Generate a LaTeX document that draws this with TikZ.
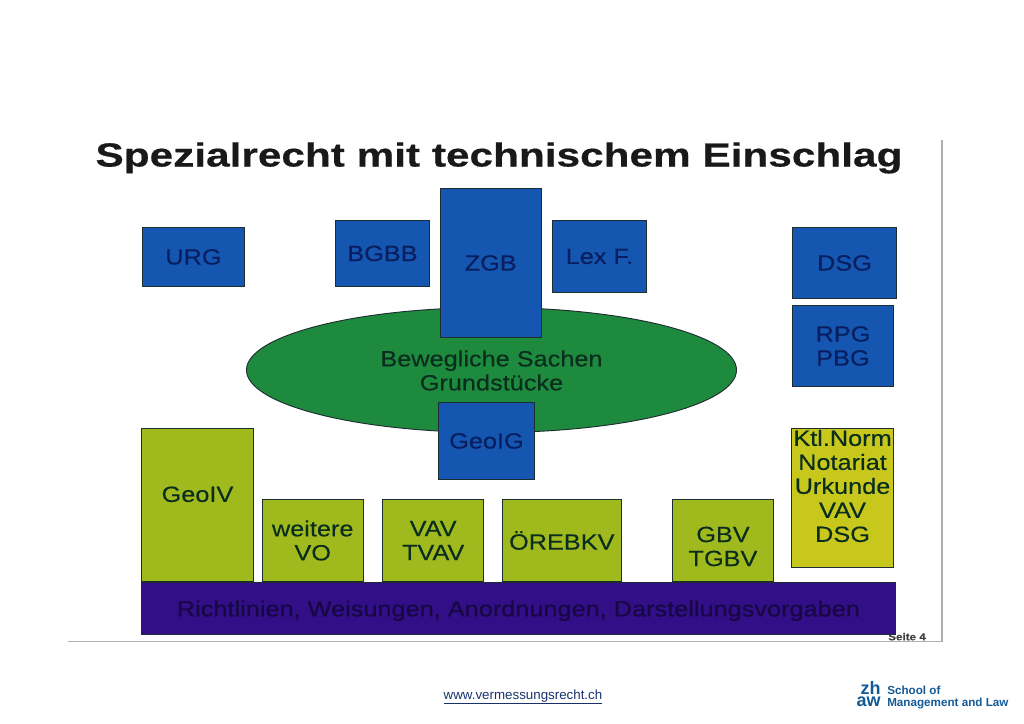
\documentclass[tikz,border=0pt]{standalone}
\usepackage{fontspec}
\setmainfont{Liberation Sans}
\newfontfamily\lawfont[FakeStretch=1.15,FakeBold=0.25]{Liberation Sans}
\newfontfamily\titlefont[FakeStretch=1.27,BoldFeatures={FakeBold=0.5}]{Liberation Sans}
\usepackage{tikz}
\usetikzlibrary{
  positioning,
  shapes.geometric,
}
\definecolor{lawblue}{RGB}{20, 86, 176}
\definecolor{lawgreen}{RGB}{30, 138, 62}
\definecolor{lawolive}{RGB}{160, 186, 30}
\definecolor{lawyellow}{RGB}{200, 200, 28}
\definecolor{lawpurple}{RGB}{50, 14, 135}
\definecolor{lawedge}{RGB}{30, 45, 50}
\definecolor{bluetext}{RGB}{8, 30, 95}
\definecolor{greentext}{RGB}{10, 45, 30}
\definecolor{purpletext}{RGB}{22, 8, 65}
\definecolor{framegrey}{RGB}{175, 175, 175}
\definecolor{linkblue}{RGB}{25, 50, 110}
\definecolor{zhawblue}{RGB}{20, 90, 150}
\tikzstyle{lawbox} = [
  rectangle,
  draw=lawedge,
  line width=0.7pt,
  inner sep=0pt,
  align=center,
  font=\lawfont\fontsize{16.5}{18}\selectfont,
  text=greentext,
]
\tikzstyle{bluebox} = [
  lawbox,
  fill=lawblue,
  text=bluetext,
  anchor=north west,
]
\tikzstyle{olivebox} = [
  lawbox,
  fill=lawolive,
  boxsize={102.5}{83},
]
\tikzstyle{lawtext} = [
  inner sep=0pt,
  align=center,
  font=\lawfont\fontsize{16.5}{18}\selectfont,
  text=greentext,
]
\tikzstyle{zhawtext} = [
  inner sep=0pt,
  font=\fontsize{13.5}{14}\bfseries\selectfont,
  text=zhawblue,
  anchor=base east,
]
\tikzset{boxsize/.style 2 args={minimum width=(#1-1)*0.75pt,minimum height=(#2-1)*0.75pt}}

\begin{document}
\begin{tikzpicture}[x=0.75pt,y=0.75pt]
	\useasboundingbox (0,0) rectangle (1024,-724);

	\coordinate (framebl) at (68,-641.5);
	\coordinate (framebr) at (942,-641.5);
	\coordinate (frametr) at (942,-140);
	\draw[framegrey,line width=0.8pt] (framebl) -- (framebr) -- (frametr);

	\node[inner sep=0pt,font=\titlefont\fontsize{25}{30}\bfseries\selectfont,text=black!90,anchor=base] (title) at (499,-166.5) {Spezialrecht mit technischem Einschlag};

	\node[ellipse,draw=lawedge,line width=0.7pt,fill=lawgreen,inner sep=0pt,boxsize={491}{126}] (sachen) at (491.5,-370) {};
	\node[lawtext] (sachentext) at (491.5,-370.5) {Bewegliche Sachen\\Grundstücke};

	\node[bluebox,boxsize={103}{60}] (urg) at (142,-227) {URG};
	\node[bluebox,boxsize={95}{67}] (bgbb) at (335,-220) {BGBB};
	\node[bluebox,boxsize={102.5}{150}] (zgb) at (439.5,-188) {ZGB};
	\node[bluebox,boxsize={95}{73}] (lexf) at (552,-220) {Lex F.};
	\node[bluebox,boxsize={105}{72}] (dsg) at (792,-227) {DSG};
	\node[bluebox,boxsize={102}{82}] (rpg) at (792,-305) {RPG\\PBG};
	\node[bluebox,boxsize={97}{78}] (geoig) at (438,-402) {GeoIG};

	\node[lawbox,fill=lawolive,boxsize={113}{154},anchor=north west] (geoiv) at (141,-428) {};
	\node[lawtext] (geoivtext) at ([yshift=8pt]geoiv.center) {GeoIV};
	\node[olivebox,anchor=north west] (weitere) at (261.5,-499) {weitere\\VO};
	\node[olivebox] (vav) [right=13.5pt of weitere] {VAV\\TVAV};
	\node[olivebox,boxsize={120}{83}] (oerebkv) [right=13.1pt of vav] {ÖREBKV};
	\node[olivebox,boxsize={102.5}{83}] (gbv) [right=37.5pt of oerebkv] {};
	\node[lawtext] (gbvtext) at ([yshift=-4.5pt]gbv.center) {GBV\\TGBV};

	\node[lawbox,fill=lawyellow,boxsize={102.5}{139.5},anchor=north west] (ktl) at (791,-428) {};
	\node[lawtext] (ktltext) at (842.5,-486) {Ktl.Norm\\Notariat\\Urkunde\\VAV\\DSG};

	\node[inner sep=0pt,font=\lawfont\fontsize{7.6}{8}\bfseries\selectfont,text=black!75,anchor=west] (seite) at (888,-636.7) {Seite 4};

	\node[lawbox,fill=lawpurple,text=purpletext,text depth=0pt,boxsize={755}{53},anchor=north west] (richtlinien) at (141,-582) {Richtlinien, Weisungen, Anordnungen, Darstellungsvorgaben};

	\node[inner sep=0pt,font=\fontsize{10}{12}\selectfont,text=linkblue,anchor=base] (www) at (523,-699) {\underline{www.vermessungsrecht.ch}};

	\node[zhawtext] (zh) at (881,-694) {zh};
	\node[zhawtext] (aw) at (881,-706) {aw};
	\node[inner sep=0pt,align=left,anchor=west,font=\fontsize{8.75}{9.4}\bfseries\selectfont,text=zhawblue] (school) at (887,-697.5) {School of\\Management and Law};
\end{tikzpicture}
\end{document}
